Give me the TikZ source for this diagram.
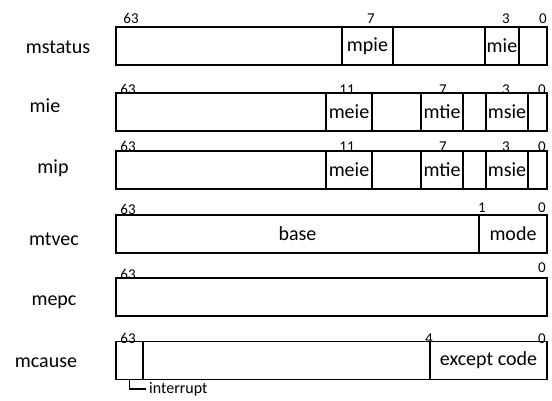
\documentclass[tikz,border=0pt]{standalone}
\usepackage{fontspec}
\setmainfont{Carlito}
\usetikzlibrary{positioning}

\begin{document}
\begin{tikzpicture}[x=1pt, y=-1pt,
  fld/.style={draw, line width=1.4pt, minimum height=38pt, inner sep=0pt, outer sep=0pt, font=\fontsize{20}{22}\selectfont},
  reg/.style={anchor=base, inner sep=0pt, font=\fontsize{20}{22}\selectfont},
  bit/.style={anchor=base, inner sep=0pt, font=\fontsize{15}{17}\selectfont},
  lead/.style={line width=1.2pt}
]
\useasboundingbox (0,0) rectangle (552,400);

% register names
\node[reg] (lmstatus) at (58, 53)  {mstatus};
\node[reg] (lmie)     at (45, 112) {mie};
\node[reg] (lmip)     at (53, 173) {mip};
\node[reg] (lmtvec)   at (54, 245) {mtvec};
\node[reg] (lmepc)    at (54, 305) {mepc};
\node[reg] (lmcause)  at (46, 367) {mcause};

% mstatus
\node[fld, minimum width=226pt] (ms-a)    at (229, 46)   {};
\node[fld, minimum width=51pt]  (ms-mpie) at (367.5, 46) {mpie};
\node[fld, minimum width=92pt]  (ms-b)    at (439, 46)   {};
\node[fld, minimum width=34pt]  (ms-mie)  at (502, 46)   {mie};
\node[fld, minimum width=28pt]  (ms-c)    at (533, 46)   {};
\node[bit] (ms63) at (131, 23.5) {63};
\node[bit] (ms7)  at (371, 23.5) {7};
\node[bit] (ms3)  at (506, 23.5) {3};
\node[bit] (ms0)  at (543, 23.5) {0};

% mie
\node[fld, minimum width=210pt] (ie-a)    at (221, 112)   {};
\node[fld, minimum width=46pt]  (ie-meie) at (349, 112)   {meie};
\node[fld, minimum width=49pt]  (ie-b)    at (396.5, 112) {};
\node[fld, minimum width=42pt]  (ie-mtie) at (442, 112)   {mtie};
\node[fld, minimum width=23pt]  (ie-c)    at (474.5, 112) {};
\node[fld, minimum width=42pt]  (ie-msie) at (507, 112)   {msie};
\node[fld, minimum width=19pt]  (ie-d)    at (537.5, 112) {};
\node[bit] (ie63) at (128, 94.5) {63};
\node[bit] (ie11) at (347, 94.5) {11};
\node[bit] (ie7)  at (443, 94.5) {7};
\node[bit] (ie3)  at (506, 94.5) {3};
\node[bit] (ie0)  at (542, 94.5) {0};

% mip
\node[fld, minimum width=210pt] (ip-a)    at (221, 170)   {};
\node[fld, minimum width=46pt]  (ip-meie) at (349, 170)   {meie};
\node[fld, minimum width=49pt]  (ip-b)    at (396.5, 170) {};
\node[fld, minimum width=42pt]  (ip-mtie) at (442, 170)   {mtie};
\node[fld, minimum width=23pt]  (ip-c)    at (474.5, 170) {};
\node[fld, minimum width=42pt]  (ip-msie) at (507, 170)   {msie};
\node[fld, minimum width=19pt]  (ip-d)    at (537.5, 170) {};
\node[bit] (ip63) at (128, 151.5) {63};
\node[bit] (ip11) at (347, 151.5) {11};
\node[bit] (ip7)  at (443, 151.5) {7};
\node[bit] (ip3)  at (506, 151.5) {3};
\node[bit] (ip0)  at (542, 151.5) {0};

% mtvec
\node[fld, minimum width=363pt] (tv-base) at (297.5, 234) {base};
\node[fld, minimum width=68pt]  (tv-mode) at (513, 234)   {mode};
\node[bit] (tv63) at (128, 214.5) {63};
\node[bit] (tv1)  at (482, 212.5) {1};
\node[bit] (tv0)  at (542, 212.5) {0};

% mepc
\node[fld, minimum width=431pt] (ep-a) at (331.5, 297) {};
\node[bit] (ep63) at (128, 279.5) {63};
\node[bit] (ep0)  at (542, 272.5) {0};

% mcause
\node[fld, minimum width=27pt]  (mc-int)  at (129.5, 360.5) {};
\node[fld, minimum width=287pt] (mc-a)    at (286.5, 360.5) {};
\node[fld, minimum width=117pt] (mc-code) at (488.5, 360.5) {except code};
\node[bit] (mc63) at (128, 343.5) {63};
\node[bit] (mc4)  at (429, 343.5) {4};
\node[bit] (mc0)  at (542, 343.5) {0};

\node[anchor=west, inner sep=3pt, font=\fontsize{16}{18}\selectfont] (irq) at (146, 389) {interrupt};
\draw[lead] (mc-int.south) |- (irq.west);

\end{tikzpicture}
\end{document}
